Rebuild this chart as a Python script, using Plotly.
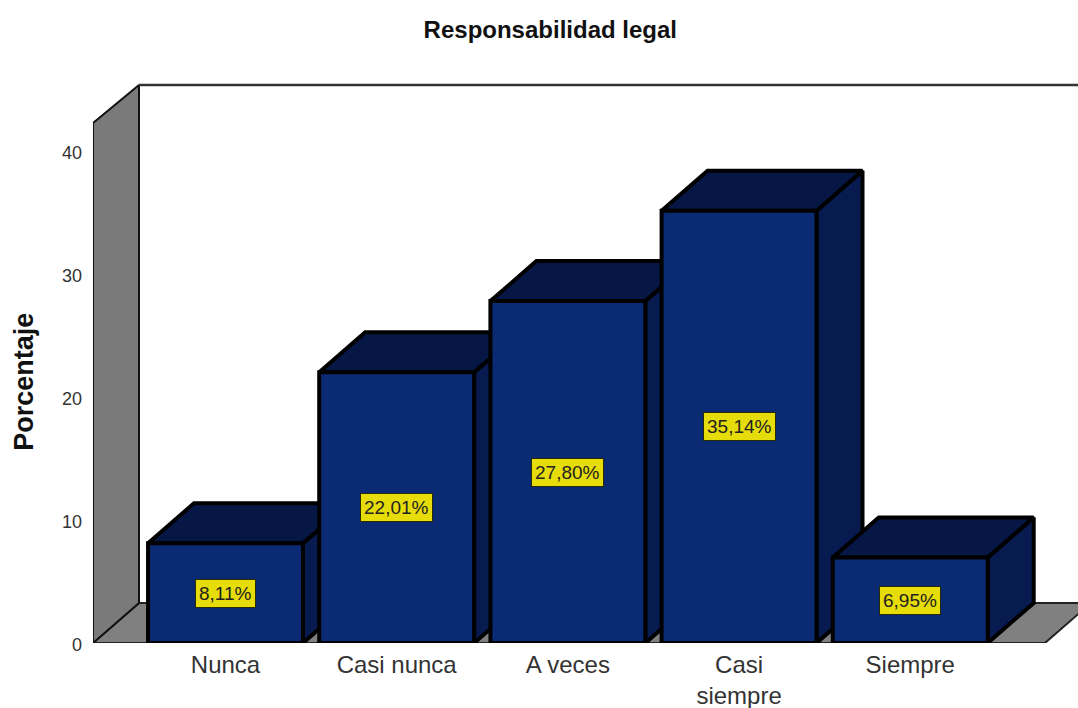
import plotly.graph_objects as go

categories = ["Nunca", "Casi nunca", "A veces", "Casi<br>siempre", "Siempre"]
percentages = [8.11, 22.01, 27.80, 35.14, 6.95]
value_labels = ["8,11%", "22,01%", "27,80%", "35,14%", "6,95%"]
y_ticks = [0, 10, 20, 30, 40]

positions = list(range(len(categories)))

# Look of the pseudo-3D frame, in axis units
X_RANGE = [-0.774, 4.98]
Y_RANGE = [0, 46.18]
BACK_TOP = 45.37
BAR_WIDTH = 0.905
DEPTH_X = 0.2687
DEPTH_Y = 3.25
FLOOR_RIGHT = 4.787
FRONT_TOP = 42.28

FRONT = "#0a2a73"
SIDE = "#071b50"
TOP = "#061745"
WALL = "#7a7a7a"
FLOOR = "#808080"
INK = "#000000"
TEXT = "#333333"
LABEL_BG = "#e6dc0a"


def poly(xs, ys, fill, width, color="#000000"):
    return go.Scatter(x=xs, y=ys, mode="lines", fill="toself", fillcolor=fill,
                      line=dict(color=color, width=width), cliponaxis=False,
                      hoverinfo="skip", showlegend=False)


fig = go.Figure()

# floor and left wall
x0 = X_RANGE[0]
fig.add_trace(poly([x0, x0 + DEPTH_X, FLOOR_RIGHT + DEPTH_X, FLOOR_RIGHT, x0],
                   [0, DEPTH_Y, DEPTH_Y, 0, 0], FLOOR, 2, "#222222"))
fig.add_trace(poly([x0, x0 + DEPTH_X, x0 + DEPTH_X, x0, x0],
                   [0, DEPTH_Y, BACK_TOP, FRONT_TOP, 0], WALL, 2, "#111111"))
# top edge of the back wall
fig.add_trace(go.Scatter(x=[x0 + DEPTH_X, X_RANGE[1] + 0.05], y=[BACK_TOP, BACK_TOP],
                         mode="lines", line=dict(color="#333333", width=2.5),
                         cliponaxis=False, hoverinfo="skip", showlegend=False))

# side and top faces, back to front
for p, v in zip(positions, percentages):
    left, right = p - BAR_WIDTH / 2, p + BAR_WIDTH / 2
    fig.add_trace(poly([right, right + DEPTH_X, right + DEPTH_X, right, right],
                       [0, DEPTH_Y, v + DEPTH_Y, v, 0], SIDE, 4, INK))
    fig.add_trace(poly([left, left + DEPTH_X, right + DEPTH_X, right, left],
                       [v, v + DEPTH_Y, v + DEPTH_Y, v, v], TOP, 4, INK))

# front faces live on an overlaid subplot so they cover the neighbour's faces
fig.add_trace(go.Bar(x=positions, y=percentages, width=BAR_WIDTH, xaxis="x2", yaxis="y2",
                     marker=dict(color=FRONT, line=dict(color=INK, width=4)),
                     cliponaxis=False, hovertemplate="%{y}%<extra></extra>", showlegend=False))

for p, v, t in zip(positions, percentages, value_labels):
    fig.add_annotation(x=p, y=v / 2, xref="x2", yref="y2", text=t, showarrow=False,
                       bgcolor=LABEL_BG, bordercolor="#2a2a00", borderwidth=1, borderpad=3,
                       font=dict(family="Liberation Sans", size=19, color="#222222"))

fig.add_annotation(x=0, xref="paper", xshift=-69, y=0.46, yref="paper", text="<b>Porcentaje</b>",
                   textangle=-90, xanchor="center", showarrow=False,
                   font=dict(size=27, color="#111111"))

fig.update_layout(
    width=1078, height=708,
    margin=dict(l=93, r=0, t=75, b=65, pad=0),
    plot_bgcolor="white", paper_bgcolor="white",
    font=dict(family="Liberation Sans"),
    title=dict(text="<b>Responsabilidad legal</b>", x=0.5105, xanchor="center",
               y=0.958, yanchor="middle", font=dict(size=24, color="#111111")),
    xaxis=dict(range=X_RANGE, tickmode="array", tickvals=positions, ticktext=categories,
               showgrid=False, zeroline=False, showline=False, ticks="", automargin=False,
               ticklabelstandoff=5, tickfont=dict(size=24, color=TEXT)),
    yaxis=dict(range=Y_RANGE, tickmode="array", tickvals=y_ticks, showgrid=False,
               zeroline=False, showline=False, ticks="", ticklabelstandoff=10, automargin=False,
               ticklabelshift=2, tickfont=dict(size=18, color=TEXT)),
    xaxis2=dict(range=X_RANGE, overlaying="x", visible=False),
    yaxis2=dict(range=Y_RANGE, overlaying="y", visible=False),
    showlegend=False,
)

fig.write_html("out.html", config={"displayModeBar": False},
               post_script="document.body.style.margin='0';")
